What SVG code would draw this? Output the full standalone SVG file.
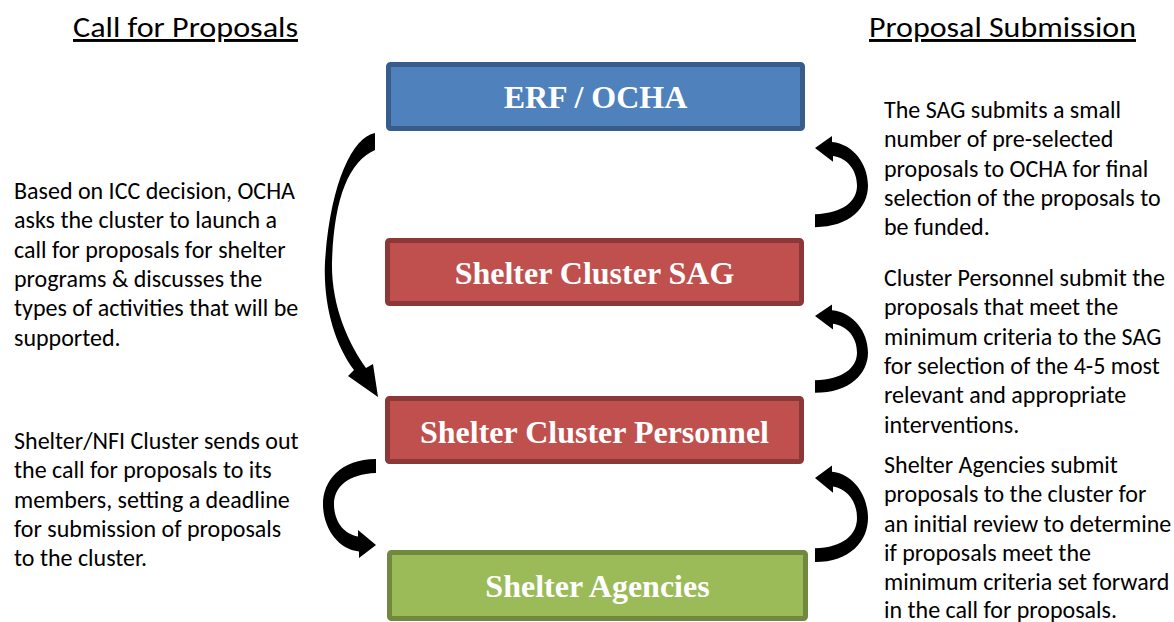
<svg xmlns="http://www.w3.org/2000/svg" width="1174" height="622" viewBox="0 0 1174 622">
<style>
.box{stroke-width:5}
.blue{fill:#4f81bd;stroke:#385d8a}
.red{fill:#c0504d;stroke:#8c3836}
.green{fill:#9bbb59;stroke:#71893f}
.lbl{font-family:"Liberation Serif","Times New Roman",serif;font-weight:bold;font-size:32px;fill:#ffffff;text-anchor:middle}
.head{font-family:Carlito,Calibri,"Liberation Sans",sans-serif;font-size:29.3px;fill:#000;text-decoration:underline}
.body{font-family:Carlito,Calibri,"Liberation Sans",sans-serif;font-size:24px;fill:#000}
.arrow{fill:#000}
</style>
<defs>
<path id="carc" d="M0 80 C35 80 53 60 53 38 C53 16 38 -4 17 -6 L17 -12 L0 0 L18 14 L18 8 C32 10 42 22 42 38 C42 54 28 66 0 67 Z"/>
</defs>
<rect width="1174" height="622" fill="#fff"/>
<g id="headings">
<text class="head" x="73" y="37" textLength="225" lengthAdjust="spacingAndGlyphs">Call for Proposals</text>
<text class="head" x="869" y="37" textLength="267" lengthAdjust="spacingAndGlyphs">Proposal Submission</text>
</g>
<g id="erf">
<rect class="box blue" x="388.5" y="64.5" width="414" height="64" rx="2"/>
<text class="lbl" x="595.5" y="108">ERF / OCHA</text>
</g>
<g id="sag">
<rect class="box red" x="387.5" y="240.5" width="414" height="63" rx="2"/>
<text class="lbl" x="594.5" y="284">Shelter Cluster SAG</text>
</g>
<g id="personnel">
<rect class="box red" x="387.5" y="398.5" width="414" height="63" rx="2"/>
<text class="lbl" x="594.5" y="443">Shelter Cluster Personnel</text>
</g>
<g id="agencies">
<rect class="box green" x="389.5" y="552.5" width="416" height="66" rx="2"/>
<text class="lbl" x="597.5" y="597">Shelter Agencies</text>
</g>
<g id="connectors">
<path class="arrow" d="M375 133 C352 137 330 185 325 262 C323 305 335 345 354 370 L348 376 L378 397 L373 364 L366 368 C348 343 331 305 332 262 C334 200 348 162 375 150 Z"/>
<use class="arrow" href="#carc" transform="translate(376,545) scale(-1,-1.075)"/>
<use class="arrow" href="#carc" transform="translate(815,148) scale(1,0.99)"/>
<use class="arrow" href="#carc" transform="translate(815,316) scale(1,0.96)"/>
<use class="arrow" href="#carc" transform="translate(815,478) scale(1,1.05)"/>
</g>
<g id="text-left-1" class="body">
<text x="14" y="199">Based on ICC decision, OCHA</text>
<text x="14" y="228.3">asks the cluster to launch a</text>
<text x="14" y="257.6">call for proposals for shelter</text>
<text x="14" y="286.9">programs &amp; discusses the</text>
<text x="14" y="316.2">types of activities that will be</text>
<text x="14" y="345.5">supported.</text>
</g>
<g id="text-left-2" class="body">
<text x="14" y="449">Shelter/NFI Cluster sends out</text>
<text x="14" y="478.3">the call for proposals to its</text>
<text x="14" y="507.6">members, setting a deadline</text>
<text x="14" y="536.9">for submission of proposals</text>
<text x="14" y="566.2">to the cluster.</text>
</g>
<g id="text-right-1" class="body">
<text x="884" y="118">The SAG submits a small</text>
<text x="884" y="147.3">number of pre-selected</text>
<text x="884" y="176.6">proposals to OCHA for final</text>
<text x="884" y="205.9">selection of the proposals to</text>
<text x="884" y="235.2">be funded.</text>
</g>
<g id="text-right-2" class="body">
<text x="884" y="286">Cluster Personnel submit the</text>
<text x="884" y="315.3">proposals that meet the</text>
<text x="884" y="344.6">minimum criteria to the SAG</text>
<text x="884" y="373.9">for selection of the 4-5 most</text>
<text x="884" y="403.2">relevant and appropriate</text>
<text x="884" y="432.5">interventions.</text>
</g>
<g id="text-right-3" class="body">
<text x="884" y="473">Shelter Agencies submit</text>
<text x="884" y="502.3">proposals to the cluster for</text>
<text x="884" y="531.6">an initial review to determine</text>
<text x="884" y="560.9">if proposals meet the</text>
<text x="884" y="590.2">minimum criteria set forward</text>
<text x="884" y="618">in the call for proposals.</text>
</g>
</svg>
